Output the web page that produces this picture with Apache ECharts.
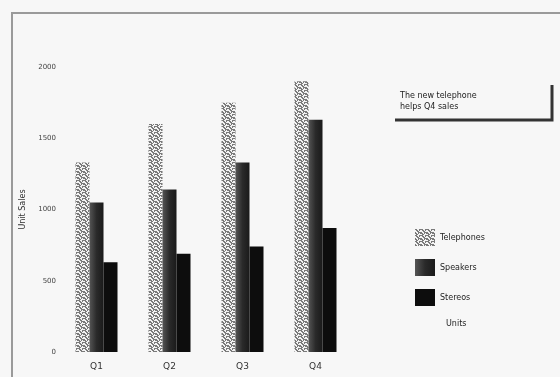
<!DOCTYPE html>
<html><head><meta charset="utf-8">
<script src="https://cdn.jsdelivr.net/npm/echarts@6/dist/echarts.min.js"></script>
<style>html,body{margin:0;padding:0;background:#f7f7f7}#c{width:560px;height:377px}</style>
</head><body><div id="c"></div>
<script>
const categories = ['Q1', 'Q2', 'Q3', 'Q4'];
const telephones = [1330, 1600, 1750, 1900];
const speakers = [1050, 1140, 1330, 1630];
const stereos = [630, 690, 740, 870];
const yTicks = [0, 500, 1000, 1500, 2000];
const seriesNames = ['Telephones', 'Speakers', 'Stereos'];
const titleLines = ['The new telephone', 'helps Q4 sales'];
const unitsNote = 'Units';

// zigzag fill pattern
const pc = document.createElement('canvas');
pc.width = 6; pc.height = 6;
const px = pc.getContext('2d');
px.fillStyle = '#f4f4f4'; px.fillRect(0, 0, 6, 6);
px.fillStyle = '#7a7a7a';
[[0,0],[1,0],[1,1],[2,1],[2,2],[3,2],[4,1],[5,0],[4,0],
 [0,3],[0,4],[1,4],[1,5],[2,5],[3,4],[3,3],[4,3],[5,3],[5,4]].forEach(p => px.fillRect(p[0], p[1], 1, 1));
const pattern = { image: pc, repeat: 'repeat' };

const chart = echarts.init(document.getElementById('c'), null, { renderer: 'canvas' });
chart.setOption({
  backgroundColor: '#f7f7f7',
  animation: false,
  grid: { left: 60, right: 208, top: 67, bottom: 25 },
  legend: {
    orient: 'vertical', left: 410, top: 224, itemGap: 13, icon: 'rect',
    itemWidth: 20, itemHeight: 17,
    textStyle: { fontSize: 8, color: '#222', fontFamily: 'DejaVu Sans' },
    data: seriesNames
  },
  xAxis: {
    type: 'category', data: categories,
    axisLine: { show: false }, axisTick: { show: false },
    axisLabel: { fontSize: 9, color: '#333', margin: 10, fontFamily: 'DejaVu Sans' }
  },
  yAxis: {
    type: 'value', min: 0, max: 2000, interval: 500,
    name: 'Unit Sales', nameLocation: 'middle', nameGap: 33, nameRotate: 90,
    nameTextStyle: { fontSize: 8, color: '#333', fontFamily: 'DejaVu Sans' },
    splitLine: { show: false }, axisLine: { show: false }, axisTick: { show: false },
    axisLabel: { fontSize: 7, color: '#444', margin: 4, fontFamily: 'DejaVu Sans',
      formatter: v => yTicks.includes(v) ? String(v) : '' }
  },
  series: [
    { name: seriesNames[0], type: 'bar', data: telephones, barWidth: 14, barGap: '0%',
      itemStyle: { color: pattern } },
    { name: seriesNames[1], type: 'bar', data: speakers, barWidth: 14, barGap: '0%',
      itemStyle: { color: new echarts.graphic.LinearGradient(0, 0, 1, 0, [
        { offset: 0, color: '#555' }, { offset: 0.5, color: '#2a2a2a' }, { offset: 1, color: '#1a1a1a' }]) } },
    { name: seriesNames[2], type: 'bar', data: stereos, barWidth: 14, barGap: '0%',
      itemStyle: { color: '#0d0d0d' } }
  ],
  graphic: [
    { type: 'polyline', shape: { points: [[12, 377], [12, 13], [560, 13]] },
      style: { stroke: '#9a9a9a', lineWidth: 2, fill: null } },
    { type: 'text', left: 400, top: 90, style: { text: titleLines.join('\n'), fontSize: 8, lineHeight: 11,
      fill: '#222', fontFamily: 'DejaVu Sans' } },
    { type: 'polyline', shape: { points: [[395, 120], [552, 120], [552, 85]] },
      style: { stroke: '#333', lineWidth: 3, fill: null } },
    { type: 'text', left: 446, top: 320, style: { text: unitsNote, fontSize: 8, fill: '#222', fontFamily: 'DejaVu Sans' } }
  ]
});
</script></body></html>
